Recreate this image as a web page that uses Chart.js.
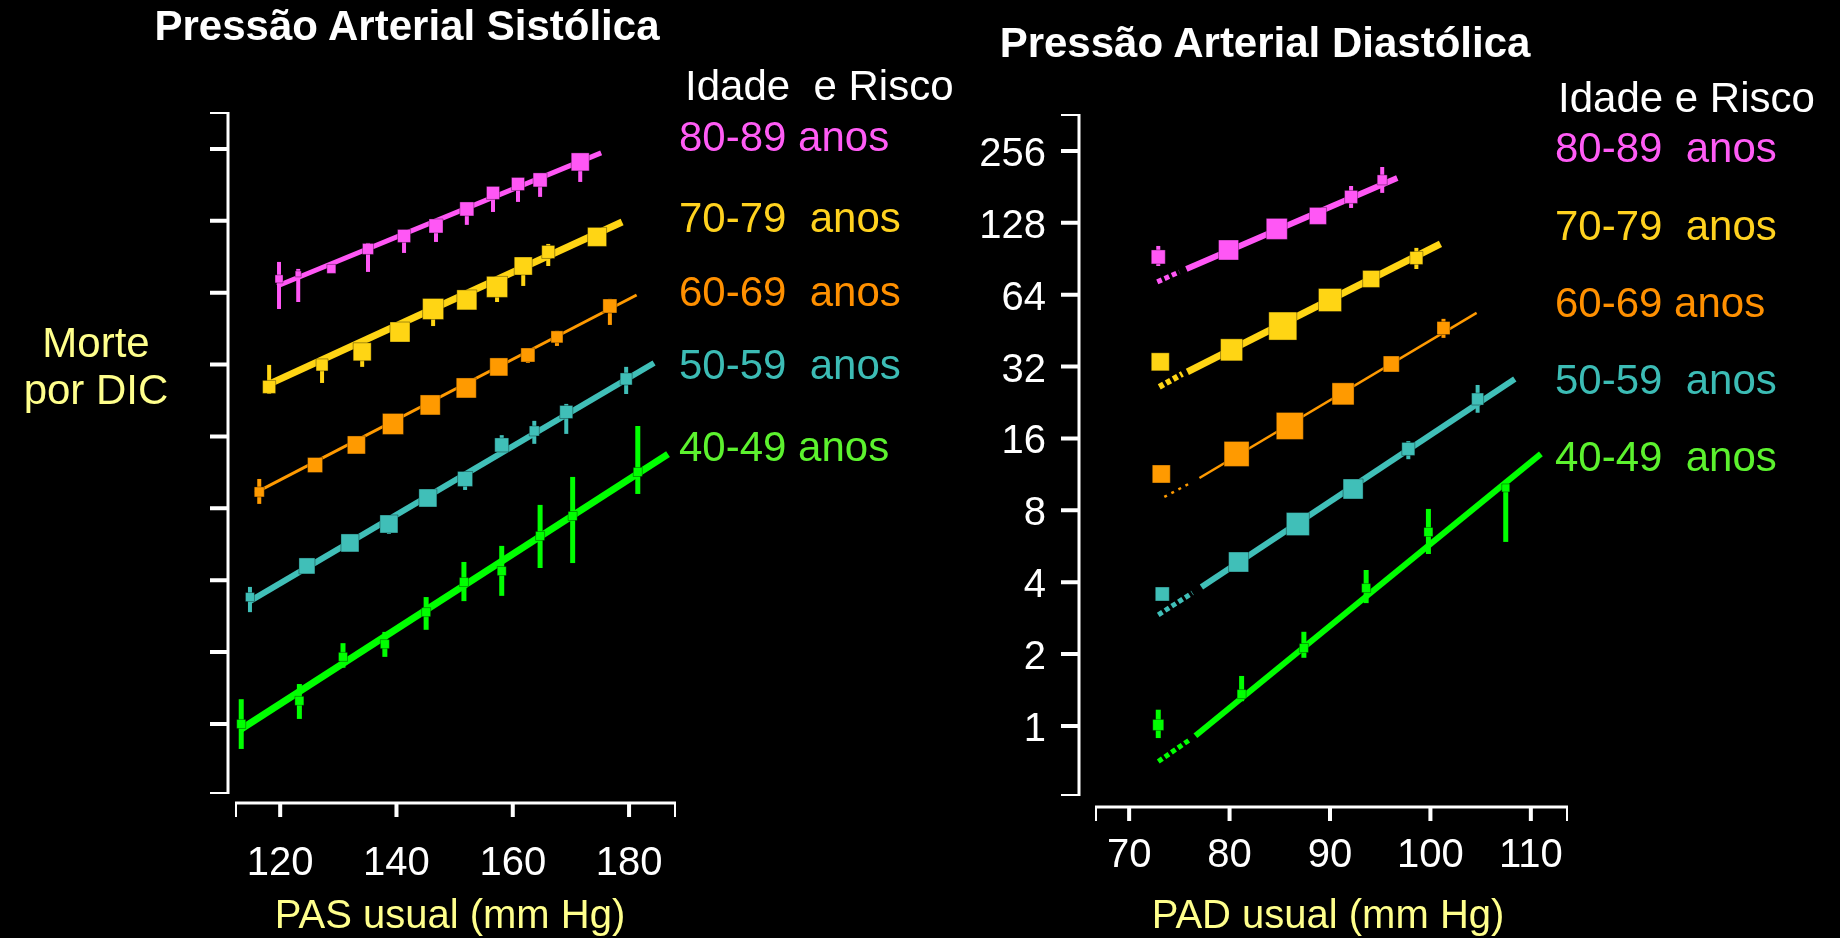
<!DOCTYPE html>
<html>
<head>
<meta charset="utf-8">
<script src="https://cdn.jsdelivr.net/npm/chart.js@4"></script>
<style>
  html, body { margin: 0; padding: 0; background: #000; }
  body { width: 1840px; height: 938px; position: relative; overflow: hidden; }
  canvas { position: absolute; top: 0; }
  .t { position: absolute; white-space: pre; line-height: 1; font-family: 'Liberation Sans', Arial, sans-serif; font-size: 42px; }
  .c { transform: translateX(-50%); }
  .b { font-weight: bold; color: #fff; }
</style>
</head>
<body>
<canvas id="pasChart" width="760" height="938" style="left:0"></canvas>
<canvas id="padChart" width="1080" height="938" style="left:760px"></canvas>

<div class="t b c" style="left:407px; top:5px">Pressão Arterial Sistólica</div>
<div class="t b c" style="left:1265px; top:22px">Pressão Arterial Diastólica</div>

<div class="t c" style="left:96px; top:322px; color:#ffff8c">Morte</div>
<div class="t c" style="left:96px; top:369px; color:#ffff8c">por DIC</div>

<div class="t" style="left:685px; top:65px; color:#fff">Idade  e Risco</div>
<div class="t" style="left:679px; top:116px; color:#ff5cf5">80-89 anos</div>
<div class="t" style="left:679px; top:197px; color:#ffd21f">70-79  anos</div>
<div class="t" style="left:679px; top:271px; color:#ff9000">60-69  anos</div>
<div class="t" style="left:679px; top:344px; color:#3cbcb5">50-59  anos</div>
<div class="t" style="left:679px; top:426px; color:#5cf22e">40-49 anos</div>

<div class="t" style="left:1558px; top:77px; color:#fff">Idade e Risco</div>
<div class="t" style="left:1555px; top:127px; color:#ff5cf5">80-89  anos</div>
<div class="t" style="left:1555px; top:205px; color:#ffd21f">70-79  anos</div>
<div class="t" style="left:1555px; top:282px; color:#ff9000">60-69 anos</div>
<div class="t" style="left:1555px; top:359px; color:#3cbcb5">50-59  anos</div>
<div class="t" style="left:1555px; top:436px; color:#5cf22e">40-49  anos</div>

<div class="t c" style="left:450px; top:894px; font-size:40px; color:#ffff8c">PAS usual (mm Hg)</div>
<div class="t c" style="left:1328px; top:894px; font-size:40px; color:#ffff8c">PAD usual (mm Hg)</div>

<script>
// risk scale (log), shared by both panels
const riskTicks = [1, 2, 4, 8, 16, 32, 64, 128, 256];
const riskMin = 0.514;
const riskMax = 362;

// ---- systolic (PAS) ----
const pasTicks = [120, 140, 160, 180];

const pasX80 = [119.8, 123.1, 128.8, 135.1, 141.3, 146.8, 152.1, 156.6, 160.9, 164.7, 171.6];
const pasY80 = [73.1, 76.7, 80.5, 97.6, 110.6, 121.8, 143.5, 167.5, 182.6, 189.9, 225.9];
const pasLo80 = [54.7, 58.5, 78, 78.2, 93.9, 104.4, 123.1, 139.4, 153.6, 161.2, 186.2];
const pasHi80 = [86.1, 80.5, 83, 103.4, 117.2, 130.3, 150.6, 177.4, 191.7, 201.2, 243.9];
const pasLine80 = [[119.5, 68.3], [175.2, 246.4]];

const pasX70 = [118.1, 127.2, 134.1, 140.6, 146.3, 152.1, 157.3, 161.8, 166.1, 174.5];
const pasY70 = [25.8, 31.9, 36.2, 43.8, 54.7, 59.7, 67.7, 82.8, 94.8, 109.6];
const pasLo70 = [24.1, 26.8, 31.3, 42, 46.4, 57.5, 58.5, 68.3, 82.8, 106];
const pasHi70 = [31.9, 33.8, 38.3, 46, 58.5, 62, 72.4, 87.8, 102.4, 113];
const pasLine70 = [[117.8, 26.3], [178.8, 126.6]];

const pasX60 = [116.4, 126.0, 133.1, 139.4, 145.8, 152.0, 157.6, 162.6, 167.6, 176.7];
const pasY60 = [9.37, 12.15, 14.74, 18.05, 21.68, 25.54, 31.28, 35.1, 41.8, 56.3];
const pasLo60 = [8.35, 11.7, 14.2, 17.4, 20.9, 24.6, 30.2, 32.5, 38.3, 46.9];
const pasHi60 = [10.62, 12.88, 15.3, 18.7, 22.5, 26.5, 32.4, 37.2, 44.3, 60.3];
const pasLine60 = [[115.7, 9.28], [181.3, 62.6]];

const pasX50 = [114.8, 124.6, 132.0, 138.7, 145.4, 151.8, 158.1, 163.7, 169.2, 179.5];
const pasY50 = [3.40, 4.59, 5.73, 6.88, 8.84, 10.62, 14.74, 16.87, 20.26, 27.86];
const pasLo50 = [2.94, 4.4, 5.5, 6.25, 8.11, 9.55, 13.5, 14.9, 16.4, 24.1];
const pasHi50 = [3.75, 4.8, 6.0, 7.36, 9.37, 11.36, 16.2, 18.6, 21.9, 31.3];
const pasLine50 = [[114.5, 3.24], [184.3, 32.5]];

const pasX40 = [113.3, 123.3, 130.8, 138.0, 145.1, 151.6, 158.1, 164.7, 170.3, 181.5];
const pasY40 = [1.00, 1.25, 1.91, 2.16, 2.94, 3.93, 4.37, 6.13, 7.43, 11.36];
const pasLo40 = [0.786, 1.05, 1.72, 1.91, 2.48, 3.27, 3.44, 4.50, 4.72, 9.19];
const pasHi40 = [1.27, 1.47, 2.18, 2.43, 3.40, 4.77, 5.57, 8.27, 10.83, 17.7];
const pasLine40 = [[113.3, 0.953], [186.7, 13.5]];

// ---- diastolic (PAD) ----
const padTicks = [70, 80, 90, 100, 110];

const padX80 = [72.9, 79.9, 84.7, 88.8, 92.1, 95.2];
const padY80 = [92.1, 98.5, 120.7, 136.8, 164.3, 193.6];
const padLo80 = [84.4, 95, 116, 132, 147.7, 170.8];
const padHi80 = [102.4, 102, 125, 141, 182.6, 219.3];
const padDot80 = [[72.8, 72.4], [75.0, 79.7]];
const padLine80 = [[75.7, 82.0], [96.7, 197.3]];

const padX70 = [73.1, 80.2, 85.3, 90.0, 94.1, 98.6];
const padY70 = [33.5, 37.6, 47.3, 60.8, 74.5, 91.2];
const padLo70 = [33.5, 37.6, 47.3, 60.8, 74.5, 82.0];
const padHi70 = [33.5, 37.6, 47.3, 60.8, 74.5, 100.5];
const padDot70 = [[73.0, 26.3], [75.3, 29.8]];
const padLine70 = [[75.8, 30.4], [101.0, 104.4]];

const padX60 = [73.2, 80.7, 86.0, 91.3, 96.1, 101.3];
const padY60 = [11.36, 13.78, 18.05, 24.6, 32.8, 46.4];
const padLo60 = [11.36, 13.78, 18.05, 24.6, 32.8, 42.2];
const padHi60 = [11.36, 13.78, 18.05, 24.6, 32.8, 50.7];
const padDot60 = [[73.5, 9.10], [76.3, 10.52]];
const padLine60 = [[77.0, 10.93], [104.6, 53.7]];

const padX50 = [73.3, 80.9, 86.8, 92.3, 97.8, 104.7];
const padY50 = [3.57, 4.86, 7.01, 9.83, 14.46, 23.4];
const padLo50 = [3.4, 4.86, 7.01, 9.5, 13.1, 20.5];
const padHi50 = [3.75, 4.86, 7.01, 10.2, 15.6, 26.8];
const padDot50 = [[72.9, 2.92], [76.3, 3.61]];
const padLine50 = [[77.2, 3.82], [108.4, 28.4]];

const padX40 = [72.9, 81.2, 87.4, 93.6, 99.8, 107.5];
const padY40 = [1.01, 1.36, 2.12, 3.78, 6.49, 9.93];
const padLo40 = [0.89, 1.27, 1.93, 3.27, 5.25, 5.90];
const padHi40 = [1.17, 1.62, 2.48, 4.50, 8.11, 10.42];
const padDot40 = [[72.9, 0.71], [76.1, 0.88]];
const padLine40 = [[76.6, 0.91], [111.0, 13.78]];

const PINK = '#ff57f5', YELLOW = '#ffd514', ORANGE = '#ff9a00', TEAL = '#40bfb8', GREEN = '#00ff00';

// square sides in px (marker size ~ amount of information)
const pasSide80 = [8, 6, 9, 11, 13, 14, 14, 13, 13, 14, 18];
const pasSide70 = [13, 12, 18, 20, 21, 20, 21, 18, 13, 19];
const pasSide60 = [10, 15, 18, 21, 20, 20, 18, 14, 12, 14];
const pasSide50 = [9, 16, 18, 18, 18, 15, 14, 10, 13, 12];
const pasSide40 = [9, 9, 9, 9, 9, 9, 9, 9, 9, 9];
const padSide80 = [14, 20, 21, 17, 13, 10];
const padSide70 = [18, 22, 28, 23, 17, 13];
const padSide60 = [18, 25, 27, 22, 16, 13];
const padSide50 = [14, 20, 23, 20, 13, 12];
const padSide40 = [11, 9, 9, 9, 9, 8];

function squares(xs, ys, lo, hi, sides, color, barWidth) {
  return {
    data: xs.map((x, i) => ({ x: x, y: ys[i] })),
    errLo: lo,
    errHi: hi,
    barWidth: barWidth,
    pointStyle: 'rect',
    pointRadius: sides.map(s => s / Math.SQRT2),
    backgroundColor: color,
    borderColor: 'rgba(0,0,0,0.35)',
    borderWidth: 1,
    clip: false,
    order: 0
  };
}

function fitLine(pts, color, width, dash) {
  return {
    data: pts.map(p => ({ x: p[0], y: p[1] })),
    showLine: true,
    pointRadius: 0,
    borderColor: color,
    borderWidth: width,
    borderDash: dash || [],
    borderCapStyle: 'butt',
    clip: false,
    order: 1
  };
}

// vertical confidence bars
const errorBars = {
  id: 'errorBars',
  beforeDatasetsDraw(chart) {
    const { ctx, scales: { x, y } } = chart;
    ctx.save();
    chart.data.datasets.forEach(ds => {
      if (!ds.errLo) return;
      ctx.strokeStyle = ds.backgroundColor;
      ctx.lineWidth = ds.barWidth;
      ds.data.forEach((p, i) => {
        const px = x.getPixelForValue(p.x);
        ctx.beginPath();
        ctx.moveTo(px, y.getPixelForValue(ds.errLo[i]));
        ctx.lineTo(px, y.getPixelForValue(ds.errHi[i]));
        ctx.stroke();
      });
    });
    ctx.restore();
  }
};

// detached axes, drawn from the scales
const axes = {
  id: 'axes',
  afterDraw(chart, args, o) {
    const { ctx, chartArea, scales: { x, y } } = chart;
    const ax = chartArea.left - o.yGap;
    const ay = chartArea.bottom + o.xGap;
    ctx.save();
    ctx.strokeStyle = '#fff';
    ctx.fillStyle = '#fff';
    ctx.lineCap = 'butt';

    ctx.lineWidth = 3;
    ctx.beginPath();
    ctx.moveTo(ax, chartArea.top - 1);
    ctx.lineTo(ax, chartArea.bottom + 1);
    ctx.moveTo(chartArea.left - 1, ay);
    ctx.lineTo(chartArea.right + 1, ay);
    ctx.stroke();

    ctx.lineWidth = 2;
    ctx.beginPath();
    [chartArea.top, chartArea.bottom].forEach(py => { ctx.moveTo(ax - 18, py); ctx.lineTo(ax, py); });
    [chartArea.left, chartArea.right].forEach(px => { ctx.moveTo(px, ay); ctx.lineTo(px, ay + 14); });
    ctx.stroke();

    ctx.lineWidth = 4;
    ctx.beginPath();
    riskTicks.forEach(v => {
      const py = y.getPixelForValue(v);
      ctx.moveTo(ax - 18, py);
      ctx.lineTo(ax, py);
    });
    o.xTicks.forEach(v => {
      const px = x.getPixelForValue(v);
      ctx.moveTo(px, ay);
      ctx.lineTo(px, ay + 14);
    });
    ctx.stroke();

    ctx.font = '40px "Liberation Sans", Arial, sans-serif';
    ctx.textBaseline = 'alphabetic';
    ctx.textAlign = 'center';
    o.xTicks.forEach(v => {
      ctx.fillText(String(v), x.getPixelForValue(v), chartArea.bottom + o.xLabelDrop);
    });
    if (o.yLabels) {
      ctx.textAlign = 'right';
      riskTicks.forEach(v => {
        ctx.fillText(String(v), ax - 33, y.getPixelForValue(v) + 15);
      });
    }
    ctx.restore();
  }
};

function makeChart(id, datasets, xMin, xMax, pad, axisOpts) {
  const ctx = document.getElementById(id).getContext('2d');
  return new Chart(ctx, {
    type: 'scatter',
    data: { datasets: datasets },
    options: {
      responsive: false,
      animation: false,
      layout: { padding: pad },
      scales: {
        x: { type: 'linear', min: xMin, max: xMax, display: false },
        y: { type: 'logarithmic', min: riskMin, max: riskMax, display: false }
      },
      plugins: {
        legend: { display: false },
        tooltip: { enabled: false },
        axes: axisOpts
      }
    },
    plugins: [errorBars, axes]
  });
}

makeChart('pasChart', [
  fitLine(pasLine80, PINK, 5),
  fitLine(pasLine70, YELLOW, 7),
  fitLine(pasLine60, ORANGE, 3),
  fitLine(pasLine50, TEAL, 6),
  fitLine(pasLine40, GREEN, 7),
  squares(pasX80, pasY80, pasLo80, pasHi80, pasSide80, PINK, 4),
  squares(pasX70, pasY70, pasLo70, pasHi70, pasSide70, YELLOW, 4),
  squares(pasX60, pasY60, pasLo60, pasHi60, pasSide60, ORANGE, 4),
  squares(pasX50, pasY50, pasLo50, pasHi50, pasSide50, TEAL, 4),
  squares(pasX40, pasY40, pasLo40, pasHi40, pasSide40, GREEN, 5)
], 112.4, 187.9, { left: 236, right: 85, top: 113, bottom: 145 },
  { yGap: 8, xGap: 10, xTicks: pasTicks, xLabelDrop: 82, yLabels: false });

makeChart('padChart', [
  fitLine(padDot80, PINK, 5, [5, 3]),
  fitLine(padLine80, PINK, 6),
  fitLine(padDot70, YELLOW, 6, [5, 3]),
  fitLine(padLine70, YELLOW, 7),
  fitLine(padDot60, ORANGE, 2.5, [3, 5]),
  fitLine(padLine60, ORANGE, 2.5),
  fitLine(padDot50, TEAL, 5, [5, 3]),
  fitLine(padLine50, TEAL, 6),
  fitLine(padDot40, GREEN, 5, [5, 3]),
  fitLine(padLine40, GREEN, 6),
  squares(padX80, padY80, padLo80, padHi80, padSide80, PINK, 4),
  squares(padX70, padY70, padLo70, padHi70, padSide70, YELLOW, 4),
  squares(padX60, padY60, padLo60, padHi60, padSide60, ORANGE, 4),
  squares(padX50, padY50, padLo50, padHi50, padSide50, TEAL, 4),
  squares(padX40, padY40, padLo40, padHi40, padSide40, GREEN, 5)
], 66.7, 113.6, { left: 336, right: 273, top: 115, bottom: 143 },
  { yGap: 17, xGap: 12, xTicks: padTicks, xLabelDrop: 72, yLabels: true });
</script>
</body>
</html>
